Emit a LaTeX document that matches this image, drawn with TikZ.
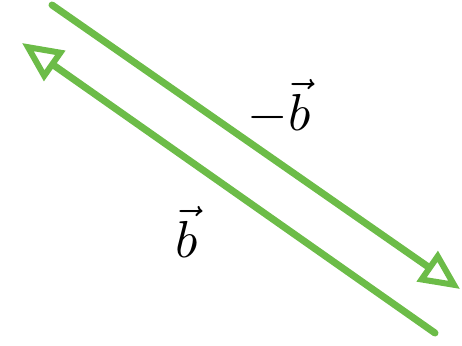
\documentclass[tikz,border=0pt]{standalone}
\usetikzlibrary{arrows.meta}
\definecolor{vgreen}{RGB}{108,188,72}
\begin{document}
\begin{tikzpicture}[x=1pt,y=1pt,
  vec/.style={draw=vgreen, line width=7pt, line cap=round,
    -{Triangle[open, fill=white, length=40pt, width=36pt, line width=6pt]}},
  lbl/.style={scale=5.2, inner sep=0pt}]
\useasboundingbox (0,0) rectangle (462,345);
\coordinate (a1) at (52,340);
\coordinate (a2) at (460,56);
\coordinate (b1) at (435,12);
\coordinate (b2) at (22,302);
\draw[vec] (a1) -- (a2);
\draw[vec] (b1) -- (b2);
\node[lbl] (nb) at (279,238) {$-\vec{b}$};
\node[lbl] (pb) at (187,113) {$\vec{b}$};
\end{tikzpicture}
\end{document}
